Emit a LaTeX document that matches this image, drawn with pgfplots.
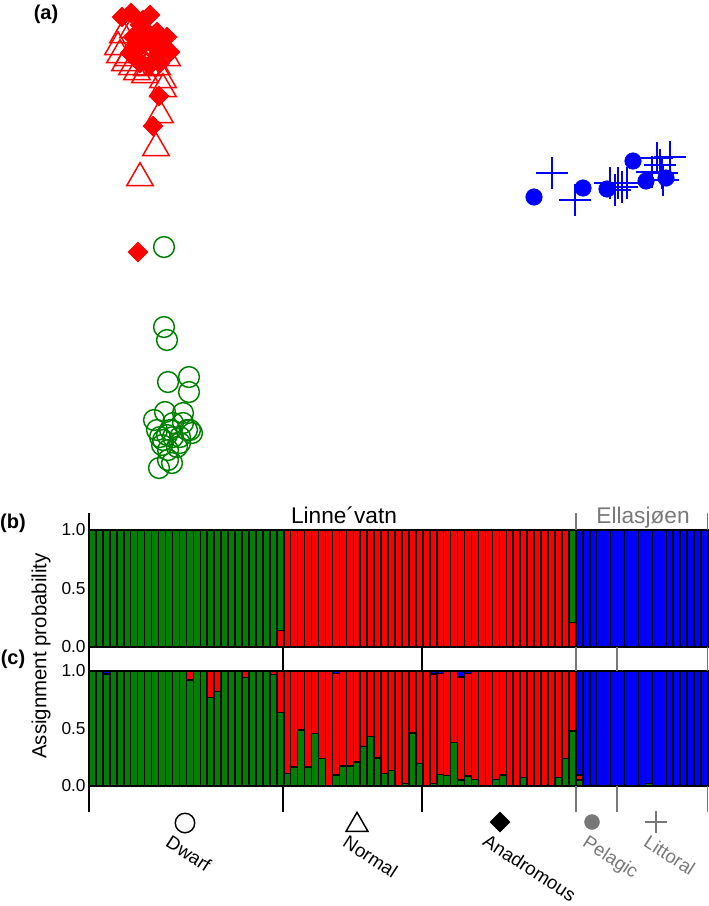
\documentclass[border=0pt]{standalone}
\usepackage{fontspec}
\setmainfont{Liberation Sans}
\usepackage{pgfplots}
\pgfplotsset{compat=1.18}
\usepackage{pgfplotstable}
\definecolor{sgreen}{RGB}{0,128,0}
\definecolor{sred}{RGB}{255,0,0}
\definecolor{sblue}{RGB}{0,0,255}
\definecolor{sgrey}{RGB}{120,120,120}

% panel (c): K=3 assignment (green, red, blue)
\pgfplotstableread{
g r b
1 0 0
1 0 0
0.975 0 0.025
1 0 0
1 0 0
1 0 0
1 0 0
1 0 0
1 0 0
1 0 0
1 0 0
1 0 0
1 0 0
1 0 0
0.92 0.08 0
1 0 0
1 0 0
0.77 0.23 0
0.82 0.18 0
1 0 0
1 0 0
1 0 0
0.945 0.055 0
1 0 0
1 0 0
1 0 0
0.97 0.03 0
0.64 0.36 0
0.11 0.89 0
0.165 0.835 0
0.485 0.515 0
0.165 0.835 0
0.455 0.545 0
0.24 0.76 0
0 1 0
0.095 0.885 0.02
0.175 0.825 0
0.175 0.825 0
0.21 0.79 0
0.345 0.655 0
0.43 0.57 0
0.245 0.755 0
0.11 0.89 0
0.135 0.865 0
0 1 0
0.023 0.977 0
0.46 0.54 0
0.195 0.805 0
0 1 0
0.023 0.952 0.025
0.1 0.88 0.02
0.09 0.91 0
0.38 0.62 0
0.05 0.9 0.05
0.087 0.893 0.02
0.055 0.945 0
0 1 0
0 1 0
0.055 0.945 0
0.095 0.905 0
0 1 0
0 1 0
0.072 0.928 0
0 1 0
0 1 0
0 1 0
0 1 0
0.072 0.928 0
0.24 0.76 0
0.477 0.523 0
0.05 0.045 0.905
0 0 1
0 0 1
0 0 1
0 0 1
0 0 1
0 0 1
0 0 1
0 0 1
0 0 1
0.02 0 0.98
0 0 1
0 0 1
0 0 1
0 0 1
0 0 1
0 0 1
0 0 1
0 0 1
}\tabc

% panel (b): K=2 assignment (red, green, blue)
\pgfplotstableread{
r g b
0 1 0
0 1 0
0 1 0
0 1 0
0 1 0
0 1 0
0 1 0
0 1 0
0 1 0
0 1 0
0 1 0
0 1 0
0 1 0
0 1 0
0 1 0
0 1 0
0 1 0
0 1 0
0 1 0
0 1 0
0 1 0
0 1 0
0 1 0
0 1 0
0 1 0
0 1 0
0 1 0
0.14 0.86 0
1 0 0
1 0 0
1 0 0
1 0 0
1 0 0
1 0 0
1 0 0
1 0 0
1 0 0
1 0 0
1 0 0
1 0 0
1 0 0
1 0 0
1 0 0
1 0 0
1 0 0
1 0 0
1 0 0
1 0 0
1 0 0
1 0 0
1 0 0
1 0 0
1 0 0
1 0 0
1 0 0
1 0 0
1 0 0
1 0 0
1 0 0
1 0 0
1 0 0
1 0 0
1 0 0
1 0 0
1 0 0
1 0 0
1 0 0
1 0 0
1 0 0
0.21 0.79 0
0 0 1
0 0 1
0 0 1
0 0 1
0 0 1
0 0 1
0 0 1
0 0 1
0 0 1
0 0 1
0 0 1
0 0 1
0 0 1
0 0 1
0 0 1
0 0 1
0 0 1
0 0 1
0 0 1
}\tabb

\begin{document}
\begin{tikzpicture}[x=0.75pt,y=-0.75pt]
\path[use as bounding box] (0,0) rectangle (709,906);

% ---------------- panel (a) scatter ----------------
\begin{axis}[at={(0pt,0pt)},anchor=north west,scale only axis,
  width=531.75pt,height=367.5pt,
  xmin=0,xmax=709,ymin=0,ymax=490,y dir=reverse,
  hide axis,clip=false]
% Dwarf: open green circles
\addplot[only marks,mark=o,mark size=7.8pt,draw=sgreen,line width=1.1pt,mark options={solid}] coordinates {
(164,247)(164,327)(167,340)(168,382)(189,377)(189,392)(154,420)(165,412)
(183,413)(190,430)(170,430)(163,440)(180,437)(160,437)(177,447)(173,423)
(183,423)(157,430)(168,450)(180,443)(192,433)(162,445)(168,460)(159,468)
(172,463)(187,430)(173,437)(167,435)};
% Normal: open red triangles
\addplot[only marks,mark=triangle,mark size=11.5pt,draw=sred,line width=1.1pt,mark options={solid}] coordinates {
(118,47)(123,35)(133,30)(128,58)(132,67)(137,72)(147,68)(125,63)(157,67)
(163,80)(163,89)(160,115)(156,148)(140,178)(143,50)(152,57)(167,58)(145,75)
(120,55)(138,42)};
% Anadromous: filled red diamonds
\addplot[only marks,mark=square*,mark size=5.3pt,mark options={solid,rotate=45,fill=sred,draw=sred}] coordinates {
(131,13)(150,15)(122,17)(140,25)(157,32)(167,37)(170,52)(147,40)(137,50)
(157,55)(160,63)(140,63)(130,53)(150,65)(143,20)(133,37)(153,45)(159,96)
(153,126)(138,252)(145,30)(163,45)};
% Pelagic: filled blue circles
\addplot[only marks,mark=*,mark size=6.2pt,mark options={solid,fill=sblue,draw=sblue}] coordinates {
(534,197)(583,188)(607,189)(633,161)(646,181)(666,178)};
% Littoral: blue plus
\addplot[only marks,mark=+,mark size=12pt,draw=sblue,line width=1.5pt,mark options={solid}] coordinates {
(552,173)(575,200)(618,183)(615,190)(622,187)(627,183)(657,158)(652,172)
(670,157)(663,180)(662,173)(610,183)(660,165)};
% group symbols under panel (c)
\addplot[only marks,mark=o,mark size=7.3pt,draw=black,line width=1.1pt] coordinates {(185,823)};
\addplot[only marks,mark=triangle,mark size=9.5pt,draw=black,line width=1.1pt] coordinates {(357,825)};
\addplot[only marks,mark=square*,mark size=5.3pt,mark options={rotate=45,fill=black,draw=black}] coordinates {(500,822)};
\addplot[only marks,mark=*,mark size=5.6pt,mark options={fill=sgrey,draw=sgrey}] coordinates {(592,822)};
\addplot[only marks,mark=+,mark size=8.6pt,draw=sgrey,line width=1.1pt] coordinates {(656,822)};
\end{axis}

% ---------------- panel (b) ----------------
\begin{axis}[at={(66.75pt,-397.5pt)},anchor=north west,scale only axis,
  width=464.25pt,height=87.75pt,
  xmin=0,xmax=89,ymin=0,ymax=1,
  ybar stacked,bar width=1,
  axis line style={draw=none},xtick=\empty,
  ytick={0,0.5,1},yticklabels={0.0,0.5,1.0},major tick length=0pt,
  yticklabel style={font=\fontsize{13}{15}\selectfont,xshift=1pt},
  clip=false]
\addplot[fill=sred,draw=black,line width=1.15pt] table[x expr=\coordindex+0.5,y=r]{\tabb};
\addplot[fill=sgreen,draw=black,line width=1.15pt] table[x expr=\coordindex+0.5,y=g]{\tabb};
\addplot[fill=sblue,draw=black,line width=1.15pt] table[x expr=\coordindex+0.5,y=b]{\tabb};
\end{axis}

% ---------------- panel (c) ----------------
\begin{axis}[at={(66.75pt,-503.25pt)},anchor=north west,scale only axis,
  width=464.25pt,height=86.25pt,
  xmin=0,xmax=89,ymin=0,ymax=1,
  ybar stacked,bar width=1,
  axis line style={draw=none},xtick=\empty,
  ytick={0,0.5,1},yticklabels={0.0,0.5,1.0},major tick length=0pt,
  yticklabel style={font=\fontsize{13}{15}\selectfont,xshift=1pt},
  clip=false]
\addplot[fill=sgreen,draw=black,line width=1.15pt] table[x expr=\coordindex+0.5,y=g]{\tabc};
\addplot[fill=sred,draw=black,line width=1.15pt] table[x expr=\coordindex+0.5,y=r]{\tabc};
\addplot[fill=sblue,draw=black,line width=1.15pt] table[x expr=\coordindex+0.5,y=b]{\tabc};
\end{axis}

% ---------------- decorations ----------------
\draw[black,line width=1.1pt] (89,513) -- (89,812);
\draw[black,line width=1.1pt] (283,647) -- (283,671) (283,786) -- (283,812);
\draw[black,line width=1.1pt] (422,647) -- (422,671) (422,786) -- (422,812);
\draw[sgrey,line width=1.1pt] (576,513) -- (576,530) (576,647) -- (576,671) (576,786) -- (576,812);
\draw[sgrey,line width=1.1pt] (617,647) -- (617,671) (617,786) -- (617,812);
\draw[sgrey,line width=1.1pt] (707.5,513) -- (707.5,530) (707.5,647) -- (707.5,671) (707.5,786) -- (707.5,812);

\node[font=\fontsize{17}{19}\selectfont,anchor=base] at (344,523) {Linne´vatn};
\node[font=\fontsize{17}{19}\selectfont,anchor=base,text=sgrey] at (643,523) {Ellasjøen};

\node[font=\bfseries\fontsize{15}{17}\selectfont,inner sep=0pt] at (46,14) {(a)};
\node[font=\bfseries\fontsize{15}{17}\selectfont,inner sep=0pt] at (13,523) {(b)};
\node[font=\bfseries\fontsize{15}{17}\selectfont,inner sep=0pt] at (13,659) {(c)};
\node[font=\fontsize{15.3}{17}\selectfont,rotate=90] at (41,656) {Assignment probability};

\node[font=\fontsize{14}{16}\selectfont,anchor=north west,rotate=-33,inner sep=0pt] at (172,834) {Dwarf};
\node[font=\fontsize{14}{16}\selectfont,anchor=north west,rotate=-33,inner sep=0pt] at (349,834) {Normal};
\node[font=\fontsize{14}{16}\selectfont,anchor=north west,rotate=-33,inner sep=0pt] at (489,833) {Anadromous};
\node[font=\fontsize{14}{16}\selectfont,anchor=north west,rotate=-33,inner sep=0pt,text=sgrey] at (589,834) {Pelagic};
\node[font=\fontsize{14}{16}\selectfont,anchor=north west,rotate=-33,inner sep=0pt,text=sgrey] at (650,834) {Littoral};
\end{tikzpicture}
\end{document}
